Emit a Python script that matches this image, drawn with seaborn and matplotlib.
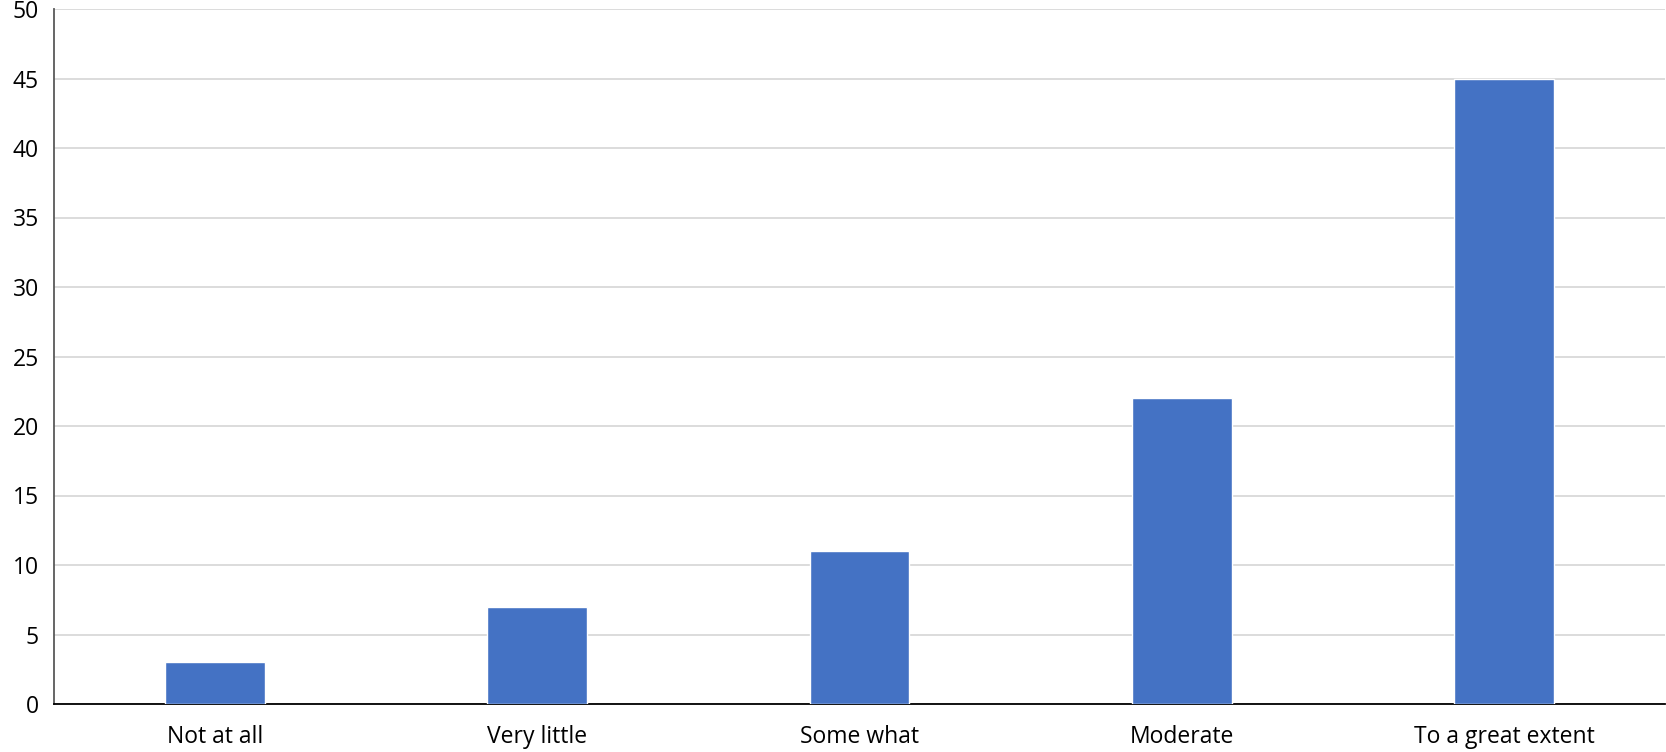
import seaborn as sns
import matplotlib.pyplot as plt
import pandas as pd

# Survey responses
categories = ['Not at all', 'Very little', 'Some what', 'Moderate', 'To a great extent']
counts = [3, 7, 11, 22, 45]

df = pd.DataFrame({'response': categories, 'count': counts})

sns.set_style('white')
plt.rcParams['font.family'] = ['Open Sans', 'DejaVu Sans']

fig = plt.figure(figsize=(16.66, 7.52), dpi=100)
ax = fig.add_axes([54 / 1666, 1 - 704 / 752, 1611 / 1666, 695 / 752])

sns.barplot(data=df, x='response', y='count', color='#4472C4', width=0.31,
            saturation=1, ax=ax, zorder=3)

ax.set_ylim(0, 50)
ax.set_yticks(range(0, 51, 5))
ax.set_xlim(-0.5, 4.5)
ax.yaxis.grid(True, color='#D9D9D9', linewidth=1.3, zorder=0)
ax.set_axisbelow(True)
ax.set_xlabel('')
ax.set_ylabel('')

for side in ['top', 'right']:
    ax.spines[side].set_visible(False)
ax.spines['left'].set_color('#595959')
ax.spines['left'].set_linewidth(1.3)
ax.spines['bottom'].set_color('black')
ax.spines['bottom'].set_linewidth(1.3)

ax.tick_params(axis='both', length=0, labelsize=16.5, colors='black')
ax.tick_params(axis='x', pad=15)
ax.tick_params(axis='y', pad=11)

plt.savefig('out.png', dpi=100)
